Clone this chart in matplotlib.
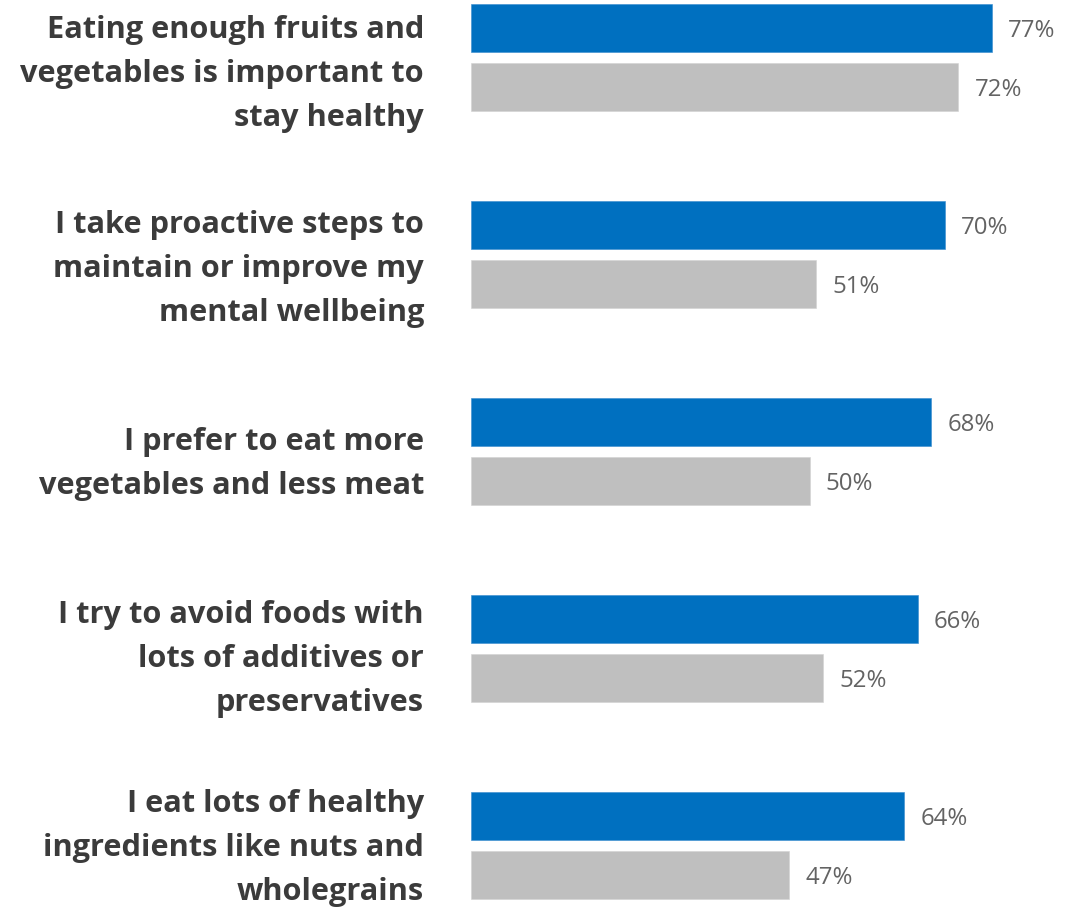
import matplotlib
matplotlib.use("Agg")
import matplotlib.pyplot as plt
import numpy as np

# Statements and the share agreeing, per group
statements = [
    "Eating enough fruits and\nvegetables is important to\nstay healthy",
    "I take proactive steps to\nmaintain or improve my\nmental wellbeing",
    "I prefer to eat more\nvegetables and less meat",
    "I try to avoid foods with\nlots of additives or\npreservatives",
    "I eat lots of healthy\ningredients like nuts and\nwholegrains",
]
blue_vals = [77, 70, 68, 66, 64]
gray_vals = [72, 51, 50, 52, 47]

BLUE = "#0070C0"
GRAY = "#BFBFBF"
TEXT = "#3b3b3b"
VALUE = "#636363"

DPI = 72
W, H = 1074, 909
fig = plt.figure(figsize=(W / DPI, H / DPI), dpi=DPI)

# axes start where the bars begin; 1 % ~ 6.77 px
x0 = 471
px_per_pct = 6.77
ax = fig.add_axes([x0 / W, 0, 1 - x0 / W, 1])
ax.set_xlim(0, (W - x0) / px_per_pct)
ax.set_ylim(H, 0)
ax.axis("off")

centers = 57.5 + 197 * np.arange(len(statements))
bar_h = 48
gap = 29.5
# baseline of the last line of each statement (px from top)
label_base = [126, 321, 494, 711, 900]

ax.barh(centers - gap, blue_vals, height=bar_h, color=BLUE, edgecolor="#3d8fd0", linewidth=0.6)
ax.barh(centers + gap, gray_vals, height=bar_h, color=GRAY, edgecolor="#d4d4d4", linewidth=0.6)

for c, b, g, s, yb in zip(centers, blue_vals, gray_vals, statements, label_base):
    ax.annotate(f"{b}%", xy=(b, c - gap), xytext=(16, -3), textcoords="offset points",
                va="center", ha="left", fontsize=24, color=VALUE, family="Open Sans")
    ax.annotate(f"{g}%", xy=(g, c + gap), xytext=(16, -3), textcoords="offset points",
                va="center", ha="left", fontsize=24, color=VALUE, family="Open Sans")
    ax.annotate(s, xy=(0, yb), xytext=(-47, 0), textcoords="offset points",
                va="baseline", ha="right", fontsize=30.7, fontweight="bold", color=TEXT,
                family="Open Sans", linespacing=1.6, annotation_clip=False)

fig.savefig("out.png", dpi=DPI)
